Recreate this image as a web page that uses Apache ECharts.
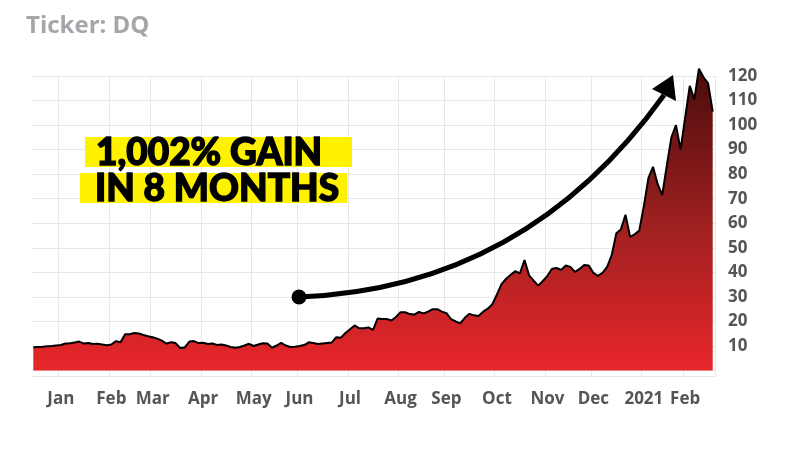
<!DOCTYPE html>
<html><head><meta charset="utf-8">
<script src="https://cdn.jsdelivr.net/npm/echarts@6/dist/echarts.min.js"></script>
<style>html,body{margin:0;padding:0;background:#fff}#c{width:800px;height:449px}</style>
</head><body><div id="c"></div>
<script>
// Trading-day calendar (every second trading day is sampled)
const startDate = '2019-12-13';
const endDate = '2021-02-18';
const holidays = ['2019-12-25','2020-01-01','2020-01-20','2020-02-17','2020-04-10','2020-05-25',
  '2020-07-03','2020-09-07','2020-11-26','2020-12-25','2021-01-01','2021-01-18','2021-02-15'];
const monthNames = ['Jan','Feb','Mar','Apr','May','Jun','Jul','Aug','Sep','Oct','Nov','Dec'];

// DQ closing price (every 2nd trading day)
const price = [
  9.5, 9.6, 9.7, 9.9, 10.0, 10.2, 10.4, 11.0, 11.1, 11.4,
  11.8, 11.0, 11.2, 10.8, 10.9, 10.6, 10.3, 10.6, 12.0, 11.5,
  14.8, 14.8, 15.3, 15.1, 14.5, 14.0, 13.6, 13.0, 12.2, 11.0,
  11.5, 11.2, 9.2, 9.4, 11.8, 12.0, 11.2, 11.3, 10.8, 11.0,
  10.4, 10.6, 10.2, 9.6, 9.3, 9.6, 10.2, 10.9, 10.0, 10.6,
  11.1, 11.0, 9.3, 10.2, 11.3, 10.2, 9.6, 9.7, 10.0, 10.4,
  11.5, 11.2, 10.8, 11.0, 11.2, 11.4, 13.6, 13.4, 15.3, 16.8,
  18.4, 17.2, 17.2, 17.6, 16.6, 21.2, 21.0, 21.0, 20.4, 21.8,
  23.8, 23.8, 23.0, 22.8, 23.9, 23.3, 24.0, 25.0, 25.0, 24.0,
  23.4, 21.0, 20.0, 19.2, 21.5, 23.1, 22.5, 22.2, 24.0, 25.2,
  27.0, 31.0, 35.2, 37.4, 39.0, 40.5, 39.6, 45.0, 38.8, 36.6,
  34.6, 36.5, 38.6, 41.5, 41.8, 41.0, 42.8, 42.2, 40.2, 41.4,
  43.0, 42.8, 39.8, 38.6, 39.8, 42.2, 47.0, 55.9, 57.5, 63.5,
  54.5, 55.5, 57.0, 67.0, 78.5, 83.0, 76.0, 71.5, 83.5, 95.0,
  100.0, 90.0, 103.0, 116.0, 110.5, 123.0, 119.5, 117.0, 105.5
];

const yMin = -2.5, yMax = 120;

const tradingDays = [];
for (let d = new Date(startDate + 'T00:00:00Z'); d <= new Date(endDate + 'T00:00:00Z'); d.setUTCDate(d.getUTCDate() + 1)) {
  const wd = d.getUTCDay();
  const s = d.toISOString().slice(0, 10);
  if (wd === 0 || wd === 6 || holidays.indexOf(s) >= 0) continue;
  tradingDays.push(s);
}
const categories = tradingDays.filter((_, i) => i % 2 === 0);

function isMonthStart(i) {
  if (i === 0) return false;
  return categories[i].slice(5, 7) !== categories[i - 1].slice(5, 7);
}

const chart = echarts.init(document.getElementById('c'), null, {renderer: 'canvas'});
const labelFont = {color: '#555559', fontSize: 17, fontWeight: 'bold', fontFamily: '"Open Sans", sans-serif'};

chart.setOption({
  animation: false,
  backgroundColor: '#ffffff',
  grid: {left: 31, right: 85, top: 76, bottom: 72.3, containLabel: false, outerBoundsMode: 'none'},
  xAxis: {
    type: 'category',
    data: categories,
    boundaryGap: true,
    axisLine: {show: false},
    axisTick: {show: false},
    axisLabel: Object.assign({
      interval: (i) => isMonthStart(i),
      margin: 14,
      formatter: (v) => {
        const y = v.slice(0, 4), m = +v.slice(5, 7) - 1;
        return (m === 0 && y === '2021') ? '2021' : monthNames[m];
      }
    }, labelFont),
    splitLine: {show: true, interval: (i) => isMonthStart(i), lineStyle: {color: '#e8e8e8', width: 1}}
  },
  yAxis: {
    type: 'value',
    position: 'right',
    min: yMin,
    max: yMax,
    splitNumber: 12,
    axisLine: {show: false},
    axisTick: {show: false},
    axisLabel: Object.assign({
      margin: 13,
      formatter: (v) => (v > 0 && Math.abs(v % 10) < 1e-9) ? String(v) : ''
    }, labelFont),
    splitLine: {show: true, lineStyle: {color: '#e8e8e8', width: 1}}
  },
  series: [{
    type: 'line',
    data: price,
    clip: false,
    showSymbol: false,
    symbol: 'none',
    lineStyle: {color: '#000000', width: 2},
    areaStyle: {
      opacity: 1,
      color: new echarts.graphic.LinearGradient(0, 0, 0, 1, [
        {offset: 0, color: '#4a0b0b'},
        {offset: 0.5, color: '#9c2020'},
        {offset: 1, color: '#e8262a'}
      ])
    }
  }],
  graphic: [
    {type: 'text', x: 26, y: 26, z: 100,
      style: {text: 'Ticker: DQ', font: 'bold 24px "Open Sans", sans-serif', fill: '#a6a6aa', verticalAlign: 'middle'}},
    {type: 'rect', z: 100, shape: {x: 85, y: 137, width: 267, height: 30}, style: {fill: '#fff200'}},
    {type: 'rect', z: 100, shape: {x: 80, y: 173, width: 267, height: 30}, style: {fill: '#fff200'}},
    {type: 'text', z: 101, x: 96, y: 153,
      style: {text: '1,002% GAIN', font: '900 37px Lato, sans-serif', fill: '#000', stroke: '#000', lineWidth: 1.4, verticalAlign: 'middle'}},
    {type: 'text', z: 101, x: 95, y: 189,
      style: {text: 'IN 8 MONTHS', font: '900 37px Lato, sans-serif', fill: '#000', stroke: '#000', lineWidth: 1.4, verticalAlign: 'middle'}},
    {type: 'bezierCurve', z: 100,
      shape: {x1: 299, y1: 297, cpx1: 430, cpy1: 292, cpx2: 560, cpy2: 240, x2: 664, y2: 95},
      style: {stroke: '#000', lineWidth: 5, fill: null}},
    {type: 'polygon', z: 100, shape: {points: [[652, 89], [673, 75], [676, 101]]}, style: {fill: '#000'}},
    {type: 'circle', z: 100, shape: {cx: 299, cy: 297, r: 7.5}, style: {fill: '#000'}}
  ]
});
</script>
</body></html>
